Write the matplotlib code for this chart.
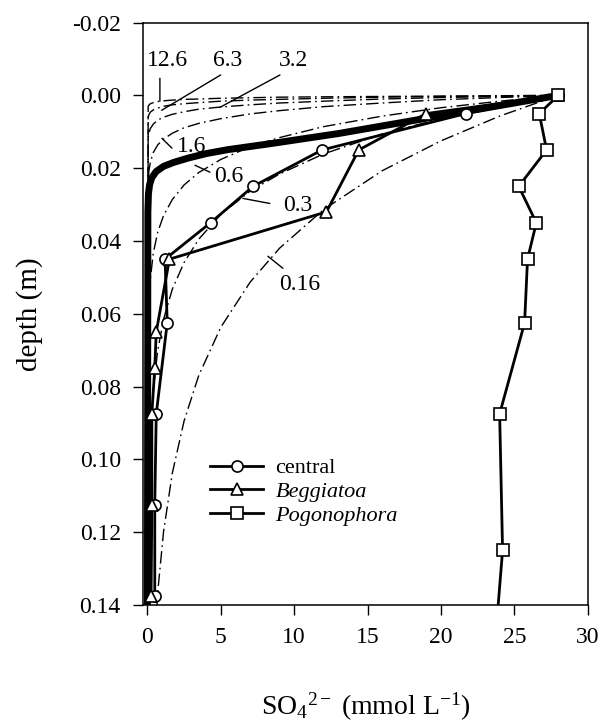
"""
Sulfate porewater profiles.

Measured SO4 profiles at three sites plotted against depth, together with
model curves (dash-dot) for a range of parameter values and the best fit
(thick line).
"""

import matplotlib.pyplot as plt

plt.rcParams["font.family"] = "Liberation Serif"
plt.rcParams["mathtext.fontset"] = "custom"
plt.rcParams["mathtext.rm"] = "Liberation Serif"
plt.rcParams["mathtext.it"] = "Liberation Serif:italic"
plt.rcParams["axes.unicode_minus"] = False

# measured profiles: depth (m) and SO4 (mmol/L)
central_depth = [0.0, 0.005, 0.015, 0.025, 0.035, 0.045, 0.0625, 0.0875, 0.1125, 0.1375]
central_so4 = [28.0, 21.7, 11.9, 7.2, 4.3, 1.2, 1.35, 0.6, 0.5, 0.5]

beggiatoa_depth = [0.0, 0.005, 0.015, 0.032, 0.045, 0.065, 0.075, 0.0875, 0.1125, 0.1375]
beggiatoa_so4 = [28.0, 19.0, 14.4, 12.2, 1.5, 0.6, 0.5, 0.3, 0.3, 0.25]

pogonophora_depth = [0.0, 0.005, 0.015, 0.025, 0.035, 0.045, 0.0625, 0.0875, 0.125, 0.15]
pogonophora_so4 = [28.0, 26.7, 27.2, 25.3, 26.5, 25.9, 25.7, 24.0, 24.2, 23.7]

# model curves share one concentration axis
model_so4 = [28.0, 24.0, 20.0, 16.0, 12.0, 9.0, 7.0, 5.0, 3.5, 2.5,
             1.7, 1.1, 0.7, 0.4, 0.2, 0.1, 0.05, 0.0]
depth_12_6 = [0.0, 0.0001, 0.0002, 0.0003, 0.0004, 0.0005, 0.00065, 0.0008,
              0.001, 0.0011, 0.0013, 0.0015, 0.0017, 0.002, 0.0023, 0.0027, 0.003, 0.14]
depth_6_3 = [0.0, 0.00015, 0.0003, 0.0005, 0.0008, 0.0011, 0.0013, 0.0016,
             0.002, 0.0023, 0.0026, 0.003, 0.0035, 0.004, 0.0046, 0.0053, 0.006, 0.14]
depth_3_2 = [0.0, 0.0003, 0.0006, 0.001, 0.0016, 0.0021, 0.0026, 0.0032,
             0.0038, 0.0045, 0.0052, 0.006, 0.0068, 0.0079, 0.0091, 0.0104, 0.0117, 0.14]
depth_1_6 = [0.0, 0.0006, 0.0012, 0.0021, 0.0031, 0.0042, 0.0051, 0.0064,
             0.0077, 0.0089, 0.0104, 0.012, 0.0136, 0.0157, 0.0183, 0.0208, 0.0234, 0.14]
depth_0_6 = [0.0, 0.0016, 0.0034, 0.0057, 0.0086, 0.0116, 0.0141, 0.0176,
             0.0212, 0.0246, 0.0286, 0.033, 0.0376, 0.0433, 0.0504, 0.0575, 0.0645, 0.14]
depth_0_3 = [0.0, 0.0029, 0.0064, 0.0106, 0.0161, 0.0216, 0.0263, 0.0327,
             0.0395, 0.0459, 0.0532, 0.0615, 0.0701, 0.0807, 0.0939, 0.1071, 0.1202, 0.14]
depth_0_16 = [0.0, 0.0057, 0.0125, 0.0207, 0.0314, 0.042, 0.0513, 0.0637,
              0.0769, 0.0894, 0.1037, 0.1198, 0.1365, 0.1572, 0.1828, 0.2085, 0.2341, 0.26]

# best fit
fit_so4 = [28.0, 20.0, 13.0, 8.5, 5.5, 4.0, 2.8, 1.8, 1.1, 0.6, 0.3, 0.15, 0.07, 0.03, 0.0]
fit_depth = [0.0, 0.0056, 0.0105, 0.0132, 0.0149, 0.016, 0.0172, 0.0184,
             0.0195, 0.0209, 0.0226, 0.0245, 0.027, 0.032, 0.14]

DASHDOT = (0, (9, 3, 1.2, 3))


def generate_profile_chart():
    """Draws model curves, best fit and measured profiles, saves out.png."""
    fig = plt.figure(figsize=(6.04, 7.25), dpi=100)
    ax = fig.add_axes([0.2368, 0.1655, 0.7362, 0.8034])

    for depth in [depth_12_6, depth_6_3, depth_3_2, depth_1_6,
                  depth_0_6, depth_0_3, depth_0_16]:
        ax.plot(model_so4, depth, color="black", lw=1.0, linestyle=DASHDOT)

    ax.plot(fit_so4, fit_depth, color="black", lw=5, solid_capstyle="round")

    marker_style = dict(color="black", lw=2.0, markersize=8,
                        markerfacecolor="white", markeredgecolor="black",
                        markeredgewidth=1.2)
    ax.plot(central_so4, central_depth, marker="o", label="central", **marker_style)
    ax.plot(beggiatoa_so4, beggiatoa_depth, marker="^", label="Beggiatoa", **marker_style)
    ax.plot(pogonophora_so4, pogonophora_depth, marker="s", label="Pogonophora",
            **marker_style)

    # curve labels with leader lines
    labels = [
        ("12.6", (1.36, -0.0097), (0.85, -0.0047), (0.85, 0.0016)),
        ("6.3", (5.45, -0.0097), (4.99, -0.0056), (0.97, 0.0041)),
        ("3.2", (9.98, -0.0097), (9.03, -0.0056), (4.94, 0.0033)),
        ("1.6", (3.01, 0.0141), (1.67, 0.0145), (0.99, 0.0118)),
        ("0.6", (5.55, 0.0224), (4.26, 0.0211), (3.24, 0.0192)),
        ("0.3", (10.25, 0.0302), (8.34, 0.0297), (6.5, 0.0283)),
        ("0.16", (10.39, 0.052), (9.23, 0.0475), (8.21, 0.0442)),
    ]
    for text, pos, start, end in labels:
        ax.text(pos[0], pos[1], text, fontsize=17, ha="center", va="center")
        ax.annotate("", xy=end, xytext=start,
                    arrowprops=dict(arrowstyle="-", lw=1.0, color="black",
                                    shrinkA=0, shrinkB=0))

    ax.set_xlim(-0.3, 30)
    ax.set_ylim(0.14, -0.02)
    ax.set_xticks([0, 5, 10, 15, 20, 25, 30])
    ax.set_yticks([-0.02, 0.0, 0.02, 0.04, 0.06, 0.08, 0.10, 0.12, 0.14])
    ax.set_yticklabels([f"{t:.2f}" for t in ax.get_yticks()])
    ax.tick_params(direction="out", length=7, width=1.0, labelsize=17, pad=9)
    for spine in ax.spines.values():
        spine.set_linewidth(1.1)

    ax.set_xlabel(r"SO$_4$$^{2-}$ (mmol L$^{-1}$)", fontsize=20)
    ax.xaxis.set_label_coords(0.5, -0.148)
    ax.set_ylabel("depth (m)", fontsize=21)
    ax.yaxis.set_label_coords(-0.225, 0.5)

    leg = ax.legend(loc="upper left", bbox_to_anchor=(0.1507, 0.2528),
                    frameon=False, fontsize=16, handlelength=2.4,
                    handletextpad=0.55, labelspacing=0.15, borderpad=0,
                    borderaxespad=0, numpoints=1)
    for t in leg.get_texts()[1:]:
        t.set_style("italic")

    fig.savefig("out.png", dpi=100)


if __name__ == "__main__":
    generate_profile_chart()
